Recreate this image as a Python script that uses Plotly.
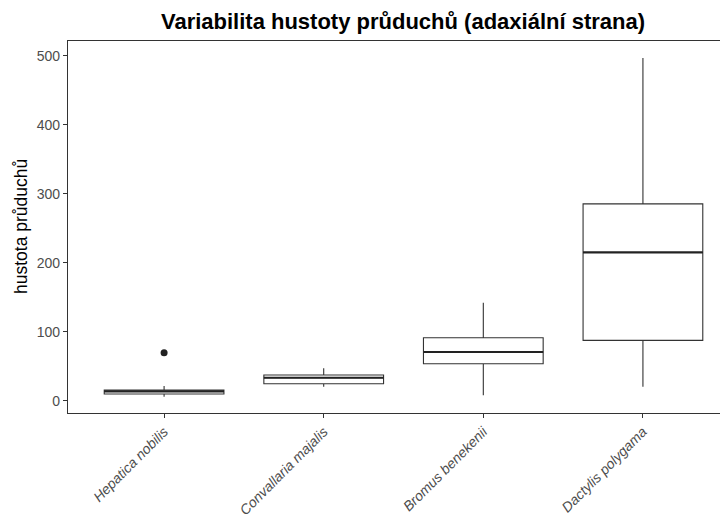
import plotly.graph_objects as go

species = ["Hepatica nobilis", "Convallaria majalis", "Bromus benekenii", "Dactylis polygama"]
lower_whisker = [6.2, 20.7, 8.2, 20.7]
q1 = [10.1, 25.0, 54.0, 87.9]
median = [14.0, 33.7, 71.0, 215.3]
q3 = [15.9, 37.6, 91.7, 285.7]
upper_whisker = [21.7, 47.3, 142.4, 497.0]
outlier_species = ["Hepatica nobilis"]
outlier_values = [70.0]

pos = list(range(len(species)))
idx = {s: i for i, s in enumerate(species)}
line_col = "#333333"
half = 0.375
FONT = "Liberation Sans, Arial, sans-serif"

# page body has an 8px default margin; size the figure so it fits the window
W, H = 720, 515

fig = go.Figure()
fig.add_trace(go.Box(
    x=pos, q1=q1, median=median, q3=q3,
    lowerfence=lower_whisker, upperfence=upper_whisker,
    width=0.75, whiskerwidth=0,
    fillcolor="white", line=dict(color=line_col, width=1.1),
    boxpoints=False, showlegend=False,
))
# thicker median lines (ggplot style)
for i, m in enumerate(median):
    fig.add_trace(go.Scatter(
        x=[pos[i] - half, pos[i] + half], y=[m, m], mode="lines",
        line=dict(color="#222222", width=2.2), showlegend=False, hoverinfo="skip",
    ))
fig.add_trace(go.Scatter(
    x=[idx[s] for s in outlier_species], y=outlier_values, mode="markers",
    marker=dict(color="#222222", size=7), showlegend=False,
))

fig.update_layout(
    width=W, height=H,
    margin=dict(l=60, r=0, t=33, b=110),
    paper_bgcolor="white", plot_bgcolor="white",
    font=dict(family=FONT),
    title=dict(
        text="<b>Variabilita hustoty průduchů (adaxiální strana)</b>",
        x=395 / W, xanchor="center", y=1 - 13 / H, yanchor="middle",
        font=dict(size=22, color="black", family=FONT),
    ),
    xaxis=dict(
        range=[-0.602, 3.533], tickvals=pos,
        ticktext=["<i>%s</i>" % s for s in species],
        tickangle=-45, showgrid=False, zeroline=False, automargin=False,
        showline=True, linecolor=line_col, linewidth=1.1, mirror=True,
        ticks="outside", ticklen=4, tickcolor=line_col, tickwidth=1.1,
        tickfont=dict(size=14, color="#4D4D4D"),
    ),
    yaxis=dict(
        range=[-17.4, 521.7], tickvals=[0, 100, 200, 300, 400, 500],
        showgrid=False, zeroline=False, automargin=False,
        showline=True, linecolor=line_col, linewidth=1.1,
        ticks="outside", ticklen=4, tickcolor=line_col, tickwidth=1.1,
        tickfont=dict(size=14, color="#4D4D4D"),
    ),
    annotations=[dict(
        text="hustota průduchů", xref="paper", yref="paper",
        x=(13 - 60) / 660, y=0.5, xanchor="center", yanchor="middle",
        textangle=-90, showarrow=False, font=dict(size=17.5, color="black", family=FONT),
    )],
)

fig.write_html("out.html")
